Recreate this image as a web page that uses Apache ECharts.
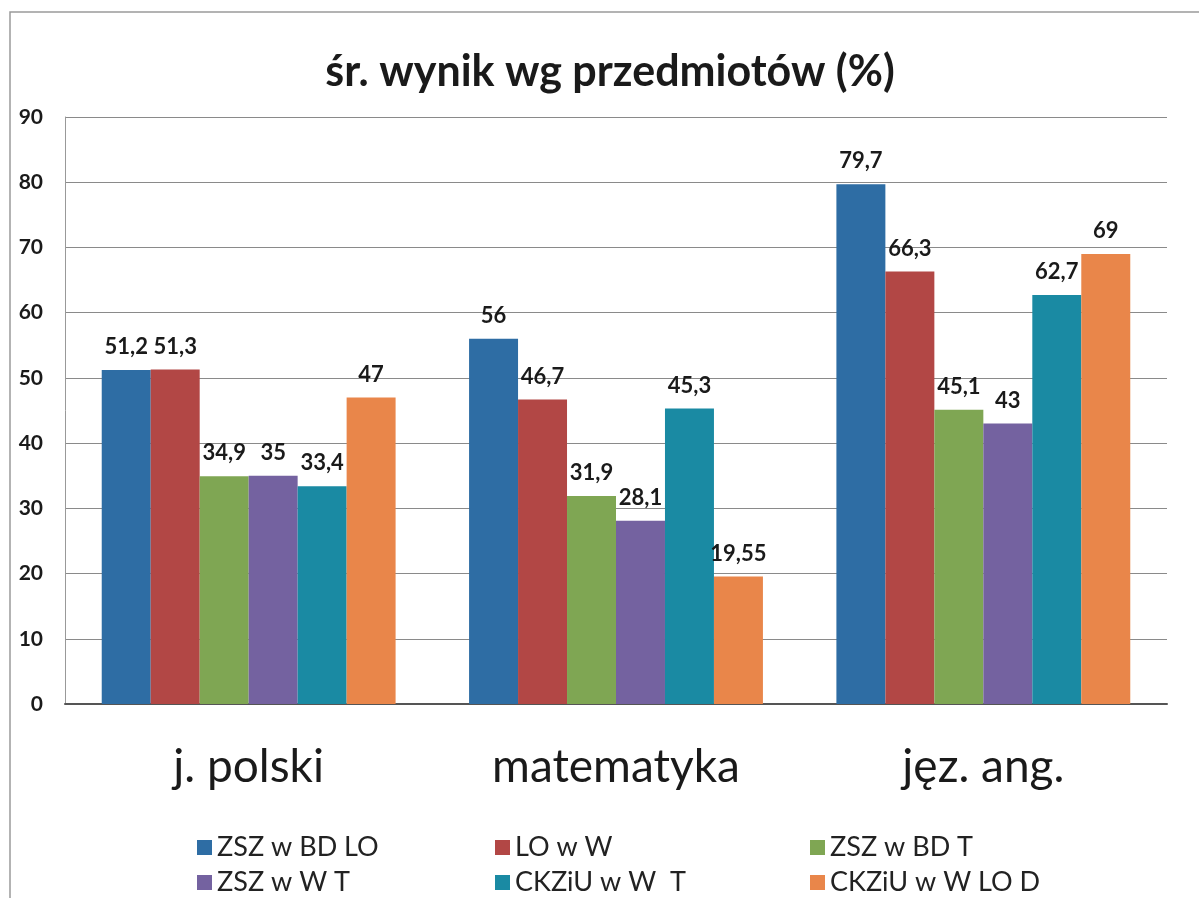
<!DOCTYPE html>
<html>
<head>
<meta charset="utf-8">
<script src="https://cdn.jsdelivr.net/npm/echarts@6/dist/echarts.min.js"></script>
<style>
  html, body { margin: 0; padding: 0; background: #fff; }
  #main { width: 1199px; height: 898px; }
</style>
</head>
<body>
<div id="main"></div>
<script>
// dane z wykresu
const categories = ['j. polski', 'matematyka', 'jęz. ang.']
const seriesNames = ['ZSZ w BD LO', 'LO w W', 'ZSZ w BD T', 'ZSZ w W T', 'CKZiU w W  T', 'CKZiU w W LO D']
const zszBdLo = [51.2, 56, 79.7]
const loW = [51.3, 46.7, 66.3]
const zszBdT = [34.9, 31.9, 45.1]
const zszWT = [35, 28.1, 43]
const ckziuWT = [33.4, 45.3, 62.7]
const ckziuWLoD = [47, 19.55, 69]
const yTicks = [0, 10, 20, 30, 40, 50, 60, 70, 80, 90]

const values = [zszBdLo, loW, zszBdT, zszWT, ckziuWT, ckziuWLoD]
const colors = ['#2e6da4', '#b24745', '#7fa653', '#7462a0', '#1a8aa3', '#e9864a']
const font = 'Lato, "Open Sans", sans-serif'

// legenda: 2 wiersze po 3 pozycje
const legendPos = [
  [192, 829], [490, 829], [805, 829],
  [192, 864], [490, 864], [805, 864]
]

const chart = echarts.init(document.getElementById('main'))
chart.setOption({
  backgroundColor: '#fff',
  animation: false,
  color: colors,
  title: {
    text: 'śr. wynik wg przedmiotów (%)',
    left: 605,
    top: 46,
    textAlign: 'center',
    textStyle: { fontFamily: font, fontSize: 43, fontWeight: 'bold', color: '#1a1a1a' }
  },
  graphic: [{
    type: 'rect',
    shape: { x: 10, y: 12, width: 1300, height: 1000 },
    style: { fill: 'none', stroke: '#9a9a9a', lineWidth: 1.5 },
    silent: true
  }],
  legend: seriesNames.map((n, i) => ({
    data: [n],
    left: legendPos[i][0],
    top: legendPos[i][1],
    icon: 'rect',
    itemWidth: 15,
    itemHeight: 15,
    itemGap: 6,
    textStyle: { fontFamily: font, fontSize: 27, color: '#222' }
  })),
  grid: { left: 65, right: 32, top: 117, bottom: 194 },
  xAxis: {
    type: 'category',
    data: categories,
    axisTick: { show: false },
    axisLine: { lineStyle: { color: '#555', width: 2 } },
    axisLabel: { fontFamily: font, fontSize: 46, color: '#1a1a1a', margin: 40 }
  },
  yAxis: {
    type: 'value',
    min: yTicks[0],
    max: yTicks[yTicks.length - 1],
    interval: 10,
    axisLine: { show: true, lineStyle: { color: '#999', width: 1 } },
    axisTick: { show: false },
    splitLine: { lineStyle: { color: '#8a8a8a', width: 1.2 } },
    axisLabel: { fontFamily: font, fontSize: 21, fontWeight: 'bold', color: '#1a1a1a', margin: 22 }
  },
  series: seriesNames.map((n, i) => ({
    name: n,
    type: 'bar',
    data: values[i],
    barGap: '0%',
    barCategoryGap: '20%',
    label: {
      show: true,
      position: 'top',
      distance: 12,
      fontFamily: font,
      fontSize: 22,
      fontWeight: 'bold',
      color: '#1a1a1a',
      formatter: p => String(p.value).replace('.', ',')
    }
  }))
})
</script>
</body>
</html>
